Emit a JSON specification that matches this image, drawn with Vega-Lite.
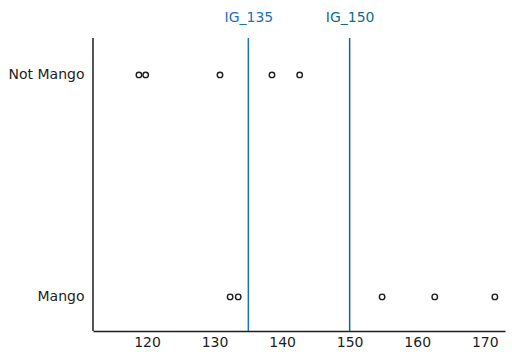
{
  "$schema": "https://vega.github.io/schema/vega-lite/v6.json",
  "width": 412,
  "height": 293,
  "autosize": {"type": "none"},
  "padding": {"left": 93, "top": 38, "right": 7, "bottom": 27},
  "background": "white",
  "config": {
    "view": {"stroke": null},
    "font": "DejaVu Sans"
  },
  "datasets": {
    "points": [
      {"class": "Not Mango", "value": 118.8},
      {"class": "Not Mango", "value": 119.8},
      {"class": "Not Mango", "value": 130.8},
      {"class": "Not Mango", "value": 138.5},
      {"class": "Not Mango", "value": 142.6},
      {"class": "Mango", "value": 132.3},
      {"class": "Mango", "value": 133.5},
      {"class": "Mango", "value": 154.8},
      {"class": "Mango", "value": 162.6},
      {"class": "Mango", "value": 171.5}
    ],
    "thresholds": [
      {"threshold": 135, "label": "IG_135"},
      {"threshold": 150, "label": "IG_150"}
    ],
    "yaxis": [{"start": 112}]
  },
  "layer": [
    {
      "data": {"name": "yaxis"},
      "mark": {"type": "rule", "color": "#1e1e1e", "strokeWidth": 1.5},
      "encoding": {
        "x": {"field": "start", "type": "quantitative", "scale": {"domain": [112, 173], "nice": false, "zero": false}, "axis": null}
      }
    },
    {
      "data": {"name": "thresholds"},
      "mark": {"type": "rule", "strokeWidth": 1.5},
      "encoding": {
        "x": {
          "field": "threshold",
          "type": "quantitative",
          "axis": {
            "orient": "top",
            "values": [135, 150],
            "labelExpr": "datum.value == 135 ? 'IG_135' : 'IG_150'",
            "domain": false,
            "ticks": false,
            "grid": false,
            "title": null,
            "labelFontSize": 14,
            "labelPadding": 14,
            "labelColor": {"condition": {"test": "datum.value == 135", "value": "#1971c2"}, "value": "#0b6e85"}
          }
        },
        "color": {
          "field": "label",
          "type": "nominal",
          "scale": {"domain": ["IG_135", "IG_150"], "range": ["#1971c2", "#0b6e85"]},
          "legend": null
        }
      }
    },
    {
      "data": {"name": "points"},
      "mark": {"type": "point", "filled": false, "size": 30, "strokeWidth": 1.4, "color": "#1e1e1e", "opacity": 1},
      "encoding": {
        "x": {
          "field": "value",
          "type": "quantitative",
          "axis": {
            "orient": "bottom",
            "values": [120, 130, 140, 150, 160, 170],
            "domainColor": "#1e1e1e",
            "domainWidth": 1.5,
            "ticks": false,
            "grid": false,
            "title": null,
            "labelFontSize": 14,
            "labelColor": "#1e1e1e",
            "labelPadding": 4
          }
        },
        "y": {
          "field": "class",
          "type": "nominal",
          "scale": {"type": "point", "domain": ["Not Mango", "Mango"], "padding": 0.16, "align": 0.52},
          "axis": {
            "domain": false,
            "ticks": false,
            "grid": false,
            "title": null,
            "labelFontSize": 14,
            "labelColor": "#1e1e1e",
            "labelPadding": 9
          }
        }
      }
    }
  ],
  "resolve": {"axis": {"x": "independent"}}
}
